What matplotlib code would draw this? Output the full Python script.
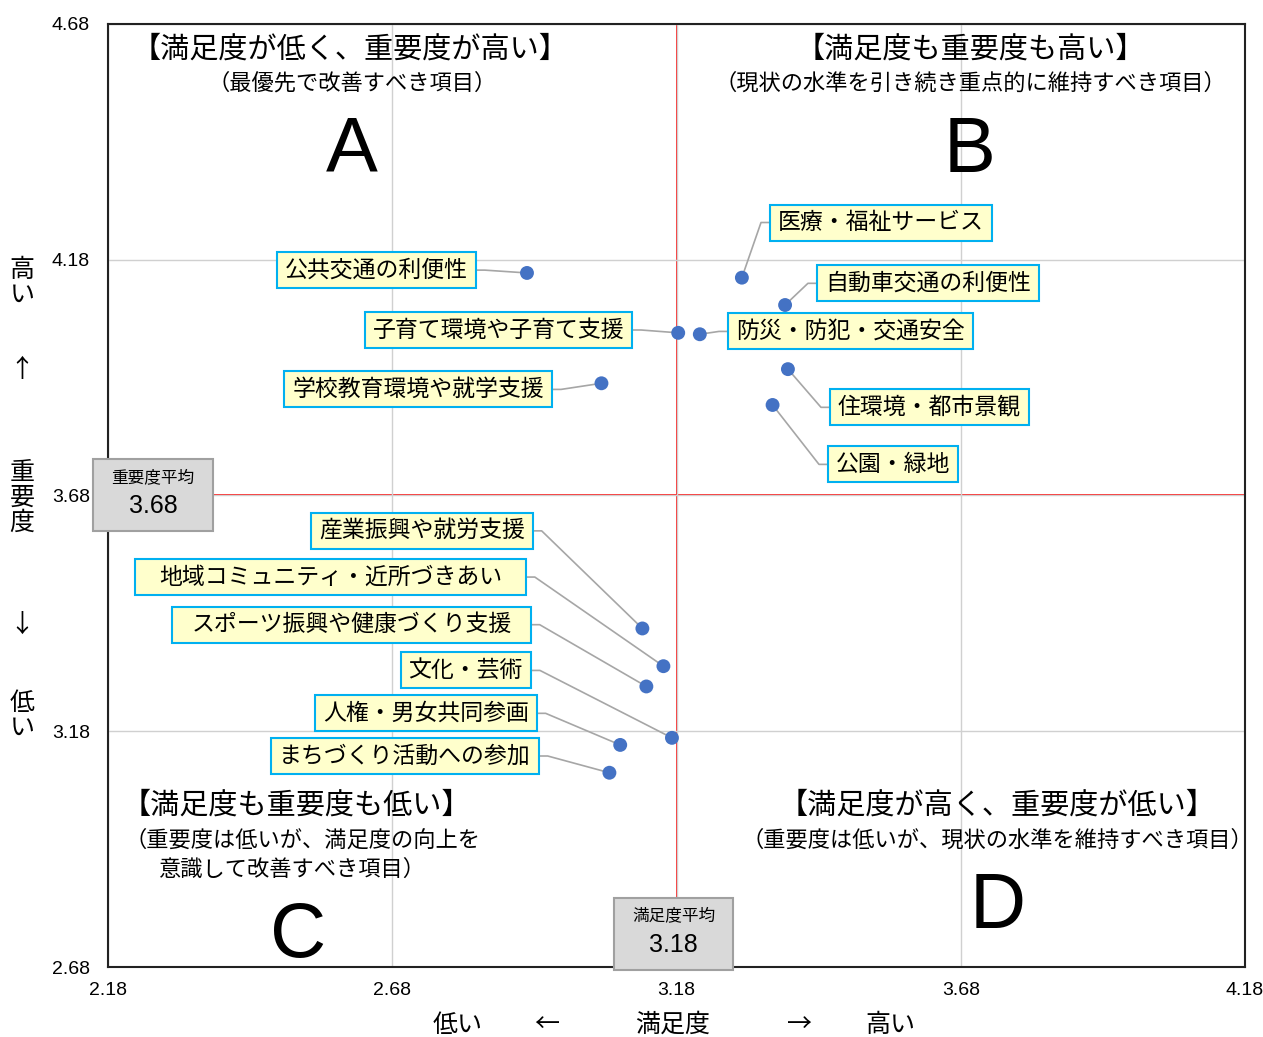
import matplotlib
matplotlib.use("Agg")
import matplotlib.pyplot as plt
from matplotlib.patches import Rectangle
from matplotlib.lines import Line2D

JP = ["Noto Sans CJK JP", "DejaVu Sans"]
NARROW = ["Liberation Sans Narrow", "Liberation Sans", "DejaVu Sans"]
plt.rcParams["font.family"] = JP

# ---- data -------------------------------------------------------------
items = [
    "公共交通の利便性",
    "子育て環境や子育て支援",
    "防災・防犯・交通安全",
    "学校教育環境や就学支援",
    "医療・福祉サービス",
    "自動車交通の利便性",
    "住環境・都市景観",
    "公園・緑地",
    "産業振興や就労支援",
    "地域コミュニティ・近所づきあい",
    "スポーツ振興や健康づくり支援",
    "文化・芸術",
    "人権・男女共同参画",
    "まちづくり活動への参加",
]
satisfaction = [2.917, 3.183, 3.221, 3.048, 3.295, 3.371, 3.376, 3.349,
                3.120, 3.157, 3.127, 3.172, 3.081, 3.062]
importance = [4.152, 4.025, 4.022, 3.918, 4.142, 4.084, 3.948, 3.872,
              3.398, 3.318, 3.275, 3.166, 3.151, 3.092]

sat_mean = 3.18
imp_mean = 3.68
x_ticks = [2.18, 2.68, 3.18, 3.68, 4.18]
y_ticks = [2.68, 3.18, 3.68, 4.18, 4.68]

# label layout: (side of box facing the point, box edge x, box centre y, extra padding px)
label_layout = [
    ("right", 2.827, 4.158, 0),
    ("right", 3.102, 4.031, 0),
    ("left", 3.2706, 4.028, 0),
    ("right", 2.961, 3.905, 0),
    ("left", 3.3445, 4.259, 0),
    ("left", 3.427, 4.130, 0),
    ("left", 3.450, 3.867, 0),
    ("left", 3.4465, 3.746, 0),
    ("right", 2.927, 3.605, 0),
    ("right", 2.915, 3.507, 16),
    ("right", 2.9235, 3.406, 11),
    ("right", 2.924, 3.309, 0),
    ("right", 2.934, 3.218, 0),
    ("right", 2.9376, 3.1275, 0),
]

# ---- figure -----------------------------------------------------------
W, H = 1263, 1037
fig = plt.figure(figsize=(W / 100, H / 100), dpi=100)
ax = fig.add_axes([108 / W, 1 - 967 / H, (1245 - 108) / W, (967 - 24) / H])
ax.set_xlim(x_ticks[0], x_ticks[-1])
ax.set_ylim(y_ticks[0], y_ticks[-1])
ax.set_xticks(x_ticks)
ax.set_yticks(y_ticks)
ax.set_xticklabels([f"{v:.2f}" for v in x_ticks], family=NARROW, fontsize=14)
ax.set_yticklabels([f"{v:.2f}" for v in y_ticks], family=NARROW, fontsize=14)
ax.tick_params(axis="x", length=0, pad=11)
ax.tick_params(axis="y", length=0, pad=13)
for s in ax.spines.values():
    s.set_linewidth(1.5)
    s.set_color("#222222")
    s.set_zorder(6)

ax.grid(True, color="#D0D0D0", lw=1.0, zorder=0)
ax.axvline(sat_mean, color="#FF0000", lw=1.2, zorder=1)
ax.axhline(imp_mean, color="#FF0000", lw=1.2, zorder=1)

ax.scatter(satisfaction, importance, s=100, color="#4472C4", zorder=5,
           edgecolors="none")


def px(xp, yp):
    """figure pixel (from top-left) -> figure fraction"""
    return xp / W, 1 - yp / H


LETTER = dict(ha="center", va="center", fontsize=56, family="Liberation Sans")
TITLE = dict(ha="center", va="center", fontsize=21)
SUB = dict(ha="center", va="center", fontsize=16)

# quadrant captions
fig.text(*px(350, 50), "【満足度が低く、重要度が高い】", **TITLE)
fig.text(*px(352, 83), "（最優先で改善すべき項目）", **SUB)
fig.text(*px(352, 151), "A", **LETTER)

fig.text(*px(970, 50), "【満足度も重要度も高い】", **TITLE)
fig.text(*px(970, 83), "（現状の水準を引き続き重点的に維持すべき項目）", **SUB)
fig.text(*px(970, 151), "B", **LETTER)

fig.text(*px(296, 806), "【満足度も重要度も低い】", **TITLE)
fig.text(*px(302, 840), "（重要度は低いが、満足度の向上を", **SUB)
fig.text(*px(292, 869), "意識して改善すべき項目）", **SUB)
fig.text(*px(298, 937), "C", **LETTER)

fig.text(*px(997, 806), "【満足度が高く、重要度が低い】", **TITLE)
fig.text(*px(997, 840), "（重要度は低いが、現状の水準を維持すべき項目）", **SUB)
fig.text(*px(998, 907), "D", **LETTER)

# axis titles
for ch, yp in [("高", 270), ("い", 295), ("↑", 370), ("重", 473), ("要", 498),
               ("度", 523), ("↓", 625), ("低", 703), ("い", 728)]:
    fig.text(*px(22, yp), ch, ha="center", va="center", fontsize=18)
for t, xp in [("低い", 458), ("←", 547), ("満足度", 673), ("→", 800), ("高い", 890)]:
    fig.text(*px(xp, 1025), t, ha="center", va="center", fontsize=18)

# ---- data labels with boxes and leader lines ---------------------------
PADX = 8       # px
BOX_H = 36     # px
ELBOW = 9      # px
texts = []
for name, (side, ex, cy, extra) in zip(items, label_layout):
    exd, cyd = ax.transData.transform((ex, cy))
    pad = PADX + extra
    tx = exd - pad if side == "right" else exd + pad
    t = fig.text(tx / W, cyd / H, name, ha=side, va="center", fontsize=16.5,
                 zorder=8)
    texts.append((t, side, cyd, pad))

fig.canvas.draw()
inv = ax.transData.inverted()
for (t, side, cyd, pad), sx, sy in zip(texts, satisfaction, importance):
    ext = t.get_window_extent()
    x0, x1 = ext.x0 - pad, ext.x1 + pad
    (dx0, dy0) = inv.transform((x0, cyd - BOX_H / 2))
    (dx1, dy1) = inv.transform((x1, cyd + BOX_H / 2))
    ax.add_patch(Rectangle((dx0, dy0), dx1 - dx0, dy1 - dy0, facecolor="#FFFFCC",
                           edgecolor="#00B0F0", lw=1.5, zorder=7, clip_on=False))
    if side == "right":
        a = (x1, cyd)
        b = (x1 + ELBOW, cyd)
    else:
        a = (x0, cyd)
        b = (x0 - ELBOW, cyd)
    pa = inv.transform(a)
    pb = inv.transform(b)
    ax.add_line(Line2D([pa[0], pb[0], sx], [pa[1], pb[1], sy], color="#A6A6A6",
                       lw=1.2, zorder=3))


# ---- average boxes -------------------------------------------------------
def avg_box(cx_disp, cy_disp, title, value):
    bw, bh = 120, 72
    (x0, y0) = inv.transform((cx_disp - bw / 2, cy_disp - bh / 2))
    (x1, y1) = inv.transform((cx_disp + bw / 2, cy_disp + bh / 2))
    ax.add_patch(Rectangle((x0, y0), x1 - x0, y1 - y0, facecolor="#D9D9D9",
                           edgecolor="#A0A0A0", lw=1.5, zorder=9, clip_on=False))
    fig.text(cx_disp / W, (cy_disp + 18) / H, title, ha="center", va="center",
             fontsize=12, zorder=10)
    fig.text(cx_disp / W, (cy_disp - 11) / H, value, ha="center", va="center",
             fontsize=18, family=NARROW, zorder=10)


lx, my = ax.transData.transform((x_ticks[0], imp_mean))
avg_box(lx + 45, my, "重要度平均", f"{imp_mean:.2f}")
mx, by = ax.transData.transform((sat_mean, y_ticks[0]))
avg_box(mx - 3, by + 33, "満足度平均", f"{sat_mean:.2f}")

fig.savefig("out.png", dpi=100)
